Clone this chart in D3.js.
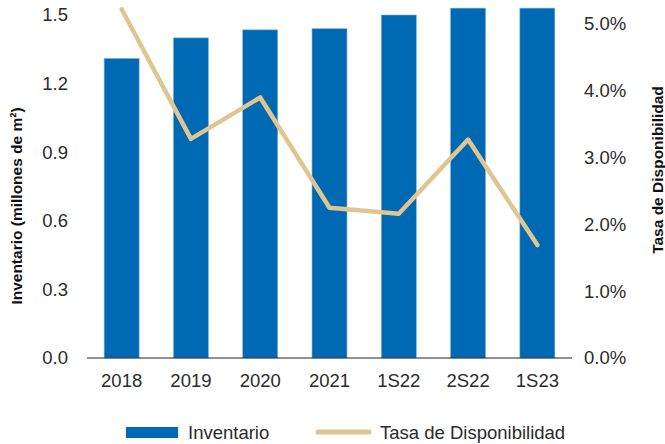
<!DOCTYPE html>
<html>
<head>
<meta charset="utf-8">
<script src="https://cdn.jsdelivr.net/npm/d3@7"></script>
<style>
  body { margin: 0; background: #fff; }
  svg text { font-family: "Liberation Sans", Arial, sans-serif; }
</style>
</head>
<body>
<div id="chart"></div>
<script>
// data
const periods = ["2018", "2019", "2020", "2021", "1S22", "2S22", "1S23"];
const inventario = [1.31, 1.40, 1.435, 1.44, 1.50, 1.53, 1.53];   // millones de m²
const disponibilidad = [5.22, 3.28, 3.90, 2.25, 2.16, 3.27, 1.69]; // %
const leftTicks = [0, 0.3, 0.6, 0.9, 1.2, 1.5];
const rightTicks = [0, 1, 2, 3, 4, 5];

const width = 665, height = 444;
const margin = { top: 15, right: 93, bottom: 86, left: 87 };
const innerW = width - margin.left - margin.right;
const innerH = height - margin.top - margin.bottom;

const svg = d3.select("#chart").append("svg")
  .attr("width", width)
  .attr("height", height);

const g = svg.append("g")
  .attr("transform", `translate(${margin.left},${margin.top})`);

const x = d3.scaleBand()
  .domain(periods)
  .range([0, innerW])
  .paddingInner(0.495)
  .paddingOuter(0.2475);

const yLeft = d3.scaleLinear().domain([0, 1.5]).range([innerH, 0]);
// right axis: 5.0% sits a bit below the 1.5 line
const yRight = d3.scaleLinear().domain([0, 5]).range([innerH, innerH - 334]);

// bars
g.selectAll(".bar")
  .data(periods)
  .enter().append("rect")
  .attr("class", "bar")
  .attr("x", d => x(d))
  .attr("width", x.bandwidth())
  .attr("y", (d, i) => yLeft(inventario[i]))
  .attr("height", (d, i) => innerH - yLeft(inventario[i]))
  .attr("fill", "#0069b4")
  .attr("stroke", "#7fb0dc")
  .attr("stroke-width", 0.6);

// baseline
g.append("line")
  .attr("x1", 0).attr("x2", innerW)
  .attr("y1", innerH).attr("y2", innerH)
  .attr("stroke", "#222").attr("stroke-width", 1.2);

// line
const line = d3.line()
  .x((d, i) => x(periods[i]) + x.bandwidth() / 2)
  .y(d => yRight(d));

g.append("path")
  .datum(disponibilidad)
  .attr("d", line)
  .attr("fill", "none")
  .attr("stroke", "#dfc690")
  .attr("stroke-width", 4.5)
  .attr("stroke-linecap", "round")
  .attr("stroke-linejoin", "round");

// axis labels
const tickColor = "#2b2b2b";
const tickSize = 18.5;
const axisLeft = d3.axisLeft(yLeft).tickValues(leftTicks).tickSize(0).tickPadding(19)
  .tickFormat(d3.format(".1f"));
const gl = g.append("g").call(axisLeft);
gl.select(".domain").remove();
gl.selectAll("text").attr("font-size", tickSize).attr("fill", tickColor);

const axisRight = d3.axisRight(yRight).tickValues(rightTicks).tickSize(0).tickPadding(12)
  .tickFormat(d => d3.format(".1f")(d) + "%");
const gr = g.append("g").attr("transform", `translate(${innerW},0)`).call(axisRight);
gr.select(".domain").remove();
gr.selectAll("text").attr("font-size", tickSize).attr("fill", tickColor);

const axisBottom = d3.axisBottom(x).tickSize(0).tickPadding(16);
const gb = g.append("g").attr("transform", `translate(0,${innerH})`).call(axisBottom);
gb.select(".domain").remove();
gb.selectAll("text").attr("font-size", tickSize).attr("fill", tickColor);

// axis titles
svg.append("text")
  .attr("transform", "translate(22,206) rotate(-90)")
  .attr("text-anchor", "middle")
  .attr("font-size", 15.5)
  .attr("font-weight", "bold")
  .attr("fill", "#111")
  .text("Inventario (millones de m²)");

svg.append("text")
  .attr("transform", "translate(663,170) rotate(-90)")
  .attr("text-anchor", "middle")
  .attr("font-size", 15.5)
  .attr("font-weight", "bold")
  .attr("fill", "#111")
  .text("Tasa de Disponibilidad");

// legend
const legend = svg.append("g");
legend.append("rect")
  .attr("x", 126).attr("y", 427).attr("width", 52).attr("height", 11)
  .attr("fill", "#0069b4");
legend.append("text")
  .attr("x", 188).attr("y", 439)
  .attr("font-size", tickSize).attr("fill", tickColor)
  .text("Inventario");
legend.append("line")
  .attr("x1", 318).attr("x2", 369).attr("y1", 432).attr("y2", 432)
  .attr("stroke", "#dfc690").attr("stroke-width", 5).attr("stroke-linecap", "round");
legend.append("text")
  .attr("x", 380).attr("y", 439)
  .attr("font-size", tickSize).attr("fill", tickColor)
  .text("Tasa de Disponibilidad");
</script>
</body>
</html>
